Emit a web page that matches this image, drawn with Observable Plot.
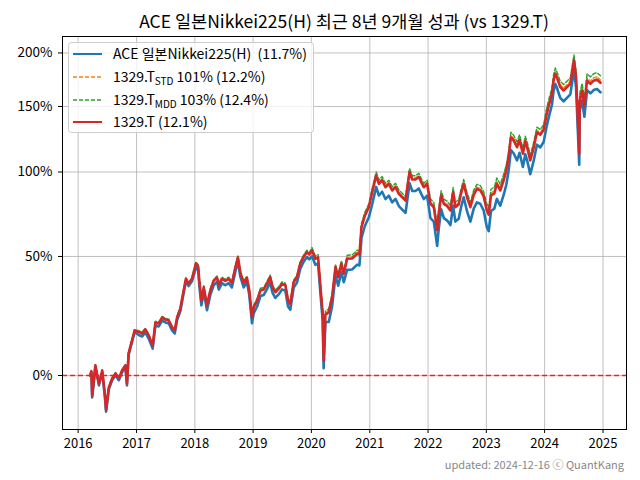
<!DOCTYPE html>
<html><head><meta charset="utf-8">
<script src="https://cdn.jsdelivr.net/npm/d3@7"></script>
<script src="https://cdn.jsdelivr.net/npm/@observablehq/plot@0.6"></script>
<style>body{margin:0;background:#fff} svg{display:block}</style>
</head><body><div id="chart"></div>
<script>
// ---- data (cumulative return, %) ----
const dates = [
"2016-03-16","2016-03-24","2016-03-29","2016-04-18","2016-05-10","2016-05-31","2016-06-16","2016-06-24","2016-07-11","2016-08-01","2016-08-22","2016-09-12","2016-10-02","2016-10-23","2016-11-02","2016-11-12","2016-12-03","2016-12-20",
"2017-01-15","2017-02-05","2017-02-25","2017-03-18","2017-04-12","2017-04-29","2017-05-20","2017-06-10","2017-07-01","2017-07-22","2017-08-11","2017-08-28","2017-09-12","2017-10-02","2017-10-23","2017-11-06","2017-11-23","2017-12-14",
"2018-01-08","2018-01-22","2018-01-29","2018-02-11","2018-02-26","2018-03-18","2018-04-08","2018-04-29","2018-05-20","2018-05-31","2018-06-20","2018-07-11","2018-08-01","2018-08-21","2018-09-12","2018-09-28","2018-10-13","2018-11-03","2018-11-23","2018-12-08","2018-12-25",
"2019-01-05","2019-01-26","2019-02-16","2019-03-08","2019-03-28","2019-04-18","2019-05-03","2019-05-20","2019-06-10","2019-07-01","2019-07-22","2019-08-08","2019-08-22","2019-09-12","2019-10-03","2019-10-23","2019-11-13","2019-12-04","2019-12-19",
"2020-01-05","2020-01-26","2020-02-12","2020-02-27","2020-03-12","2020-03-18","2020-03-29","2020-04-19","2020-05-10","2020-05-31","2020-06-17","2020-07-07","2020-07-22","2020-08-12","2020-09-12","2020-10-14","2020-10-28","2020-11-10","2020-12-01","2020-12-26",
"2021-01-16","2021-02-10","2021-02-27","2021-03-19","2021-04-09","2021-04-30","2021-05-21","2021-06-11","2021-07-02","2021-07-23","2021-08-13","2021-09-07","2021-09-24","2021-10-14","2021-11-04","2021-11-20","2021-12-05","2021-12-26",
"2022-01-16","2022-02-06","2022-02-27","2022-03-09","2022-03-24","2022-04-10","2022-05-01","2022-05-21","2022-06-07","2022-06-21","2022-07-12","2022-07-26","2022-08-12","2022-09-02","2022-09-23","2022-10-14","2022-11-03","2022-11-24","2022-12-15",
"2023-01-04","2023-01-16","2023-01-30","2023-02-20","2023-03-08","2023-03-29","2023-04-19","2023-05-06","2023-05-20","2023-06-04","2023-06-21","2023-07-12","2023-07-28","2023-08-18","2023-09-02","2023-09-17","2023-10-03","2023-10-24","2023-11-14","2023-12-05","2023-12-26",
"2024-01-12","2024-01-26","2024-02-16","2024-02-26","2024-03-08","2024-03-18","2024-04-08","2024-04-29","2024-05-20","2024-06-10","2024-07-03","2024-07-16",
"2024-08-05","2024-08-08","2024-08-23","2024-09-06","2024-09-23","2024-10-14","2024-11-03","2024-11-24","2024-12-16"
];
// ACE 일본Nikkei225(H)
const ace = [
0,0.9,-7.2,2.9,-3.3,1.1,-6.6,-11.6,-4.6,-1.6,0.1,-1.6,1.1,2.9,-3.3,7.2,12.0,16.0,
14.8,14.2,15.8,13.4,9.6,18.6,18.2,20.6,19.8,19.4,16.6,15.4,20.8,24.4,32.4,37.8,35.6,37.8,
44.5,43.0,36.0,27.0,33.0,24.9,31.6,36.0,37.6,34.0,37.0,36.0,37.0,35.0,42.5,47.5,40.0,35.0,37.5,31.6,19.5,
23.7,26.5,31.1,31.5,34.1,37.3,32.5,30.3,31.8,34.1,33.5,26.5,25.1,34.9,37.3,43.8,47.2,49.7,48.5,
50.1,45.8,46.5,32.0,20.4,2.5,20.0,20.0,26.6,40.6,35.8,42.3,37.4,43.3,43.5,45.9,45.5,59.8,66.4,71.4,
79.2,90.1,84.6,87.0,82.4,84.5,80.3,82.5,78.1,76.0,74.0,92.5,87.5,87.5,89.1,85.5,82.4,84.5,
70.9,68.9,55.5,65.0,76.1,70.9,69.5,66.9,78.2,68.9,70.5,77.1,83.5,75.0,68.9,76.5,80.3,79.5,75.5,
65.9,63.5,75.1,76.5,82.5,78.3,84.8,91.5,100.5,115.5,113.2,108.1,113.5,103.4,112.5,106.5,98.5,107.5,119.5,117.5,121.5,
132.5,140.5,151.5,163.5,170.0,166.5,157.5,154.5,157.5,160.5,183.1,167.0,
105.0,146.4,155.4,141.4,164.4,161.4,164.4,165.4,162.4
];
// 1329.T STD 101%
const std = [
0,1.6,-6.5,3.6,-2.6,1.8,-5.9,-10.9,-3.9,-0.9,0.8,-0.9,1.8,3.6,-2.6,7.9,12.7,16.7,
16.2,15.6,17.2,14.8,11.0,20.0,19.6,22.0,21.2,20.8,18.0,16.8,22.2,25.8,33.8,39.2,37.0,39.2,
46.8,45.3,38.3,29.3,35.3,27.2,33.9,38.3,39.9,36.3,39.3,38.3,39.3,37.3,44.8,49.8,42.3,37.3,39.8,33.9,22.3,
26.6,29.4,34.0,34.4,37.0,40.2,35.4,33.2,34.7,37.0,36.4,29.4,28.0,37.8,40.2,46.7,50.1,52.6,51.4,
53.7,49.4,50.1,35.6,24.0,5.8,23.6,24.6,31.2,45.2,40.4,46.9,42.0,49.5,49.7,52.1,51.7,66.6,73.2,78.2,
87.7,98.6,93.1,95.5,90.9,93.0,88.8,91.0,86.6,84.5,82.5,101.0,96.0,96.0,97.6,94.0,90.9,93.0,
80.6,78.6,65.2,74.7,85.8,80.6,79.2,76.6,87.9,78.6,80.2,86.8,93.2,84.7,78.6,86.2,90.0,89.2,85.2,
77.0,74.6,86.2,87.6,93.6,89.4,95.9,102.6,111.6,126.6,124.3,119.2,124.6,114.5,123.6,117.6,109.6,118.6,130.6,128.6,132.6,
144.2,152.2,163.2,175.2,181.7,178.2,169.2,166.2,169.2,172.2,194.8,178.7,
114.5,157.6,166.6,152.6,175.6,172.6,175.6,176.6,173.6
];
// 1329.T MDD 103%
const mdd = [
0,1.8,-6.3,3.8,-2.4,2.0,-5.7,-10.7,-3.7,-0.7,1.0,-0.7,2.0,3.8,-2.4,8.1,12.9,16.9,
16.5,15.9,17.5,15.1,11.3,20.3,19.9,22.3,21.5,21.1,18.3,17.1,22.5,26.1,34.1,39.5,37.3,39.5,
47.3,45.8,38.8,29.8,35.8,27.7,34.4,38.8,40.4,36.8,39.8,38.8,39.8,37.8,45.3,50.3,42.8,37.8,40.3,34.4,22.8,
27.2,30.0,34.6,35.0,37.6,40.8,36.0,33.8,35.3,37.6,37.0,30.0,28.6,38.4,40.8,47.3,50.7,53.2,52.0,
54.6,50.3,51.0,36.5,24.9,6.7,24.5,25.5,32.1,46.1,41.3,47.8,42.9,50.6,50.8,53.2,52.8,67.8,74.4,79.4,
89.2,100.1,94.6,97.0,92.4,94.5,90.3,92.5,88.1,86.0,84.0,102.5,97.5,97.5,99.1,95.5,92.4,94.5,
82.4,80.4,67.0,76.5,87.6,82.4,81.0,78.4,89.7,80.4,82.0,88.6,95.0,86.5,80.4,88.0,91.8,91.0,87.0,
79.4,77.0,88.6,90.0,96.0,91.8,98.3,105.0,114.0,129.0,126.7,121.6,127.0,116.9,126.0,120.0,112.0,121.0,133.0,131.0,135.0,
147.5,155.5,166.5,178.5,185.0,181.5,172.5,169.5,172.5,175.5,198.1,182.0,
116.0,161.5,170.5,156.5,179.5,176.5,179.5,180.5,177.5
];
// 1329.T
const base = [
0,1.5,-6.6,3.5,-2.7,1.7,-6,-11,-4,-1,0.7,-1,1.7,3.5,-2.7,7.8,12.6,16.6,
16,15.4,17,14.6,10.8,19.8,19.4,21.8,21,20.6,17.8,16.6,22,25.6,33.6,39,36.8,39,
46.5,45,38,29,35,26.9,33.6,38,39.6,36,39,38,39,37,44.5,49.5,42,37,39.5,33.6,22,
26.2,29,33.6,34,36.6,39.8,35,32.8,34.3,36.6,36,29,27.6,37.4,39.8,46.3,49.7,52.2,51,
53.1,48.8,49.5,35,23.4,5.2,23,24,30.6,44.6,39.8,46.3,41.4,48.8,49,51.4,51,65.8,72.4,77.4,
86.7,97.6,92.1,94.5,89.9,92,87.8,90,85.6,83.5,81.5,100,95,95,96.6,93,89.9,92,
79.4,77.4,64,73.5,84.6,79.4,78,75.4,86.7,77.4,79,85.6,92,83.5,77.4,85,88.8,88,84,
75.4,73,84.6,86,92,87.8,94.3,101,110,125,122.7,117.6,123,112.9,122,116,108,117,129,127,131,
142,150,161,173,179.5,176,167,164,167,170,192.6,176.5,
112.9,155,164,150,173,170,173,174,171
];
const seriesKeys = ["ace","std","mdd","base"];
const seriesColors = ["#1f77b4","#ff7f0e","#2ca02c","#d62728"];
const seriesDash = [null,"4,2","4,2",null];
const legendMain = ["ACE 일본Nikkei225(H)  (11.7%)","1329.T","1329.T","1329.T (12.1%)"];
const legendSub = [null,"STD","MDD",null];
const legendTail = [null," 101% (12.2%)"," 103% (12.4%)",null];
const yTickPct = [0,50,100,150,200];
const xTickYears = [2016,2017,2018,2019,2020,2021,2022,2023,2024,2025];
const titleText = "ACE 일본Nikkei225(H) 최근 8년 9개월 성과 (vs 1329.T)";
const footerText = "updated: 2024-12-16 ⓒ QuantKang";

const valuesByKey = {ace, std, mdd, base};
const rows = [];
seriesKeys.forEach(k => dates.forEach((d,i) => rows.push({key:k, date:new Date(d), v:1 + valuesByKey[k][i]/100})));

const font = "'Noto Sans CJK KR','Noto Sans',sans-serif";
const lineMarks = seriesKeys.map((k,i) => Plot.lineY(rows.filter(r=>r.key===k), {
  x:"date", y:"v", stroke:seriesColors[i],
  strokeWidth: seriesDash[i] ? 1.4 : 2.6,
  strokeDasharray: seriesDash[i] || undefined,
  strokeLinejoin:"round"
}));

const chart = Plot.plot({
  width:640, height:480,
  marginLeft:62, marginRight:14, marginTop:36, marginBottom:51,
  style:{fontFamily:font, fontSize:"13px", background:"white", color:"black", overflow:"visible"},
  x:{type:"utc", domain:[new Date("2015-09-25"), new Date("2025-05-28")]},
  y:{type:"log", domain:[0.832, 3.173]},
  marks:[
    Plot.gridX(xTickYears.map(y=>new Date(Date.UTC(y,0,1))), {stroke:"#b0b0b0", strokeOpacity:1, strokeWidth:0.8}),
    Plot.gridY(yTickPct.map(t=>1+t/100), {stroke:"#b0b0b0", strokeOpacity:1, strokeWidth:0.8}),
    ...lineMarks,
    Plot.ruleY([1], {stroke:"#ee2020", strokeWidth:1.4, strokeDasharray:"5,3"}),
    Plot.frame({stroke:"black", strokeWidth:1}),
    Plot.axisX(xTickYears.map(y=>new Date(Date.UTC(y,0,1))), {tickFormat:"%Y", tickSize:4, tickPadding:5, label:null, fontSize:13}),
    Plot.axisY(yTickPct.map(t=>1+t/100), {tickFormat:d=>Math.round((d-1)*100)+"%", tickSize:4, tickPadding:6, label:null, fontSize:13.5})
  ]
});
document.getElementById("chart").appendChild(chart);

const svg = d3.select(chart);
svg.append("text").attr("x", 344).attr("y", 28).attr("text-anchor","middle")
  .style("font-family", font).style("font-size","17.5px").attr("fill","black").text(titleText);
svg.append("text").attr("x", 624).attr("y", 469).attr("text-anchor","end")
  .style("font-family", font).style("font-size","11px").attr("fill","#888").text(footerText);

const lg = svg.append("g");
lg.append("rect").attr("x",68.5).attr("y",42.5).attr("width",245).attr("height",90).attr("rx",3)
  .attr("fill","white").attr("fill-opacity",0.8).attr("stroke","#cccccc");
const rowY = [54, 77, 100, 122];
seriesKeys.forEach((k,i) => {
  lg.append("line").attr("x1",73).attr("x2",102).attr("y1",rowY[i]).attr("y2",rowY[i])
    .attr("stroke",seriesColors[i]).attr("stroke-width", seriesDash[i]?1.4:2)
    .attr("stroke-dasharray", seriesDash[i]||null);
  const t = lg.append("text").attr("x",113).attr("y",rowY[i]).attr("dy","0.35em")
    .attr("text-anchor","start")
    .style("font-family",font).style("font-size","14px").attr("fill","black");
  t.append("tspan").text(legendMain[i]);
  if (legendSub[i]) {
    t.append("tspan").attr("dy","3").style("font-size","10px").text(legendSub[i]);
    t.append("tspan").attr("dy","-3").text(legendTail[i]);
  }
});
</script></body></html>
